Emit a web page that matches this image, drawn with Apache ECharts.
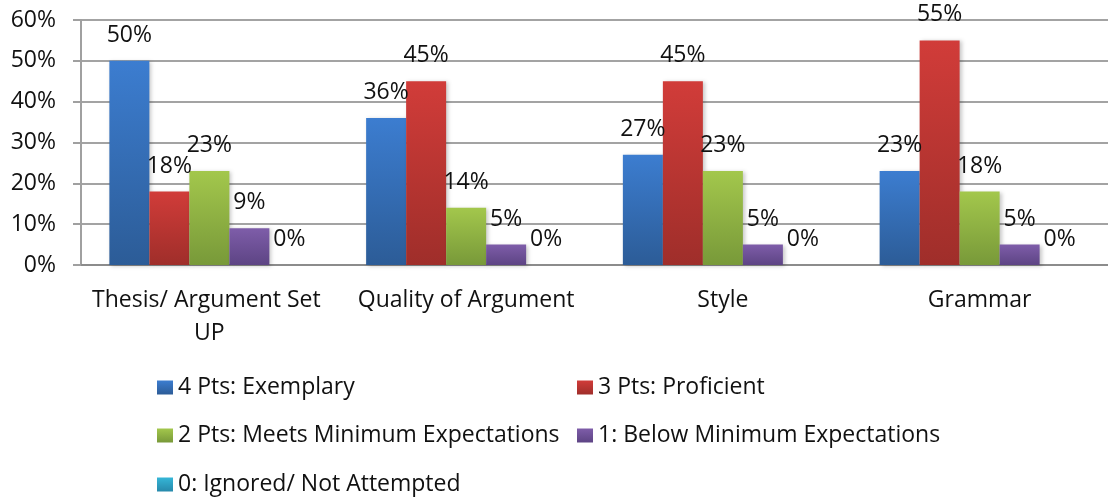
<!DOCTYPE html>
<html>
<head>
<meta charset="utf-8">
<script src="https://cdn.jsdelivr.net/npm/echarts@6/dist/echarts.min.js"></script>
<style>
  html, body { margin: 0; padding: 0; background: #fff; }
  #chart { width: 1108px; height: 502px; }
</style>
</head>
<body>
<div id="chart"></div>
<script>
// Rubric score distribution per criterion (percent of papers)
const categories = ['Thesis/ Argument Set UP', 'Quality of Argument', 'Style', 'Grammar'];
const seriesNames = [
  '4 Pts: Exemplary',
  '3 Pts: Proficient',
  '2 Pts: Meets Minimum Expectations',
  '1: Below Minimum Expectations',
  '0: Ignored/ Not Attempted'
];
const exemplary = [50, 36, 27, 23];
const proficient = [18, 45, 45, 55];
const meetsMinimum = [23, 14, 23, 18];
const belowMinimum = [9, 5, 5, 5];
const ignored = [0, 0, 0, 0];
const yTicks = [0, 10, 20, 30, 40, 50, 60];

const values = [exemplary, proficient, meetsMinimum, belowMinimum, ignored];
const gradients = [
  ['#3c7dd0', '#2c5c97'],
  ['#d13c39', '#9f2e2a'],
  ['#a3c74c', '#789939'],
  ['#7e5da9', '#5d4484'],
  ['#35b6d7', '#2789ab']
];

const FONT = '"Open Sans", "Noto Sans", sans-serif';
const FS = 23;

const series = values.map((data, i) => ({
  name: seriesNames[i],
  type: 'bar',
  data: data,
  barWidth: 40,
  barGap: '0%',
  itemStyle: {
    color: new echarts.graphic.LinearGradient(0, 0, 0, 1, [
      { offset: 0, color: gradients[i][0] },
      { offset: 1, color: gradients[i][1] }
    ]),
    shadowColor: 'rgba(0,0,0,0.22)',
    shadowBlur: 4,
    shadowOffsetX: 2,
    shadowOffsetY: 1
  },
  label: {
    show: true,
    position: 'top',
    distance: 14,
    formatter: p => p.value + '%',
    color: '#111',
    fontFamily: FONT,
    fontSize: FS
  }
}));

// Legend laid out in two columns, one component per entry
const legendSpots = [
  [157, 376], [577, 376],
  [157, 424], [577, 424],
  [157, 473]
];
const legends = seriesNames.map((name, i) => ({
  data: [name],
  left: legendSpots[i][0],
  top: legendSpots[i][1],
  orient: 'horizontal',
  icon: 'rect',
  itemWidth: 16,
  itemHeight: 14,
  itemGap: 0,
  padding: 0,
  selectedMode: false,
  textStyle: { fontFamily: FONT, fontSize: FS, color: '#111' }
}));

const chart = echarts.init(document.getElementById('chart'), null, { renderer: 'canvas' });
chart.setOption({
  animation: false,
  backgroundColor: '#ffffff',
  grid: { left: 81, top: 20, width: 1033, height: 245, containLabel: false },
  legend: legends,
  xAxis: {
    type: 'category',
    data: categories,
    axisLine: { show: true, lineStyle: { color: '#8c8c8c', width: 2 } },
    axisTick: { show: false },
    axisLabel: {
      color: '#111',
      fontFamily: FONT,
      fontSize: FS,
      margin: 19,
      lineHeight: 33,
      width: 240,
      overflow: 'break',
      interval: 0
    }
  },
  yAxis: {
    type: 'value',
    min: yTicks[0],
    max: yTicks[yTicks.length - 1],
    interval: yTicks[1] - yTicks[0],
    axisLine: { show: true, lineStyle: { color: '#a0a0a0', width: 2 } },
    axisTick: { show: true, length: 8, lineStyle: { color: '#a0a0a0', width: 2 } },
    splitLine: { show: true, lineStyle: { color: '#a3a3a3', width: 2 } },
    axisLabel: {
      color: '#111',
      fontFamily: FONT,
      fontSize: FS,
      margin: 25,
      formatter: v => v + '%'
    }
  },
  series: series
});
</script>
</body>
</html>
